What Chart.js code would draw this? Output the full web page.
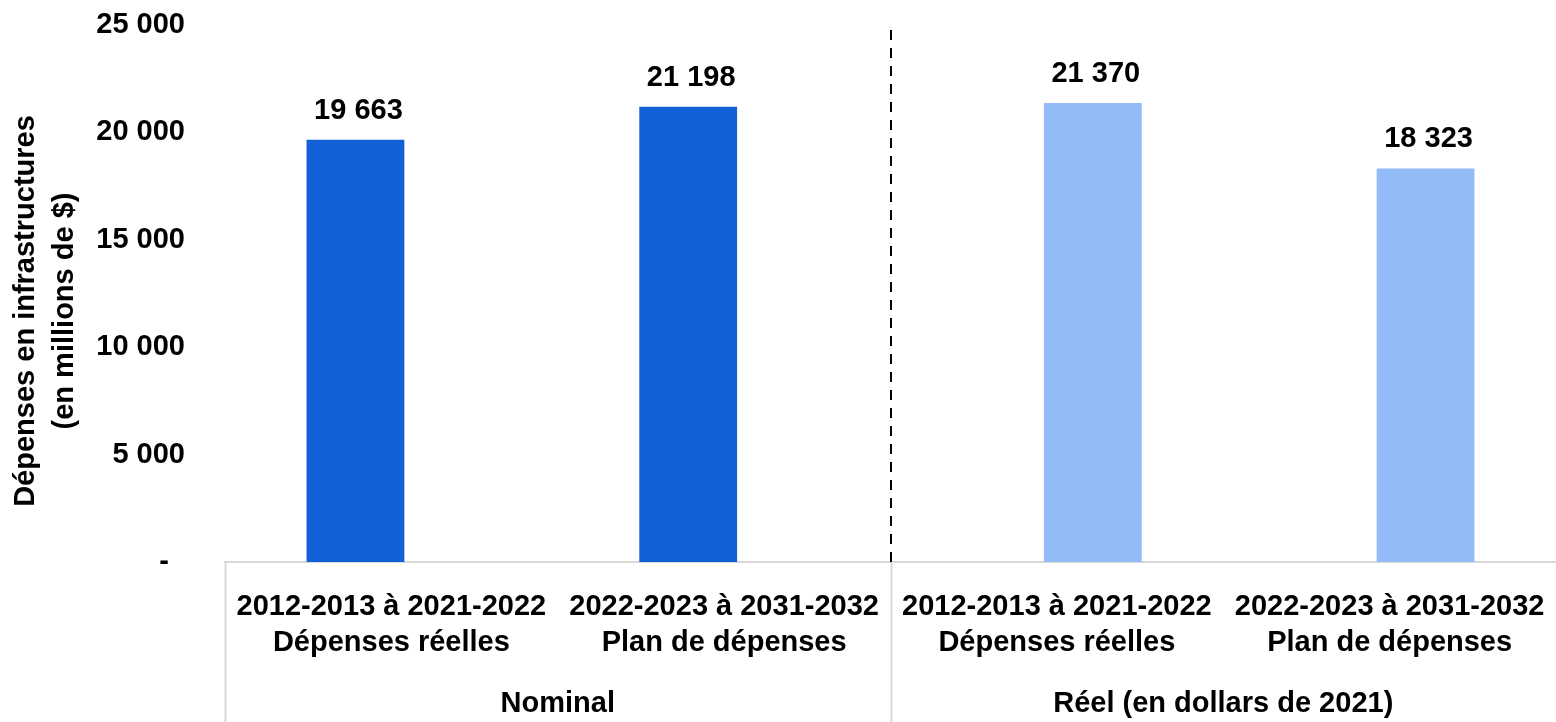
<!DOCTYPE html>
<html>
<head>
<meta charset="utf-8">
<script src="https://cdn.jsdelivr.net/npm/chart.js@4.4.0/dist/chart.umd.min.js"></script>
<style>
html,body{margin:0;padding:0;background:#fff;}
#wrap{width:1556px;height:722px;position:relative;}
</style>
</head>
<body>
<div id="wrap"><canvas id="c" width="1556" height="722"></canvas></div>
<script>
const categories = [
  ["2012-2013 à 2021-2022", "Dépenses réelles"],
  ["2022-2023 à 2031-2032", "Plan de dépenses"],
  ["2012-2013 à 2021-2022", "Dépenses réelles"],
  ["2022-2023 à 2031-2032", "Plan de dépenses"]
];
const groups = ["Nominal", "Réel (en dollars de 2021)"];
const nominalValues = [19663, 21198, null, null];
const realValues = [null, null, 21370, 18323];
const yTicks = [0, 5000, 10000, 15000, 20000, 25000];
const yTitle = ["Dépenses en infrastructures", "(en millions de $)"];

const FONT = "'Liberation Sans', Arial, sans-serif";
const FS = 29;

function fmt(v){
  if (v === 0) return "-  ";
  return String(Math.round(v)).replace(/\B(?=(\d{3})+(?!\d))/g, " ");
}

const overlay = {
  id: 'overlay',
  afterDraw(chart){
    const ctx = chart.ctx;
    const x = chart.scales.x;
    const area = chart.chartArea;
    const H = chart.height;
    const left = area.left;
    const mid = (x.getPixelForValue(1) + x.getPixelForValue(2)) / 2;
    const right = area.right;
    ctx.save();
    // group separators
    ctx.strokeStyle = '#d9d9d9';
    ctx.lineWidth = 2;
    [left, mid].forEach(px => {
      ctx.beginPath();
      ctx.moveTo(Math.round(px) + 0.5, area.bottom);
      ctx.lineTo(Math.round(px) + 0.5, H);
      ctx.stroke();
    });
    // dashed line
    ctx.strokeStyle = '#000';
    ctx.lineWidth = 2;
    ctx.setLineDash([10, 8]);
    ctx.beginPath();
    ctx.moveTo(Math.round(mid), area.top + 5);
    ctx.lineTo(Math.round(mid), area.bottom);
    ctx.stroke();
    ctx.setLineDash([]);
    ctx.fillStyle = '#000';
    ctx.font = "bold " + FS + "px " + FONT;
    ctx.textAlign = 'center';
    ctx.textBaseline = 'middle';
    // group labels
    ctx.fillText(groups[0], (left + mid) / 2, area.bottom + 142);
    ctx.fillText(groups[1], (mid + right) / 2, area.bottom + 142);
    // data labels
    chart.data.datasets.forEach((ds, di) => {
      const meta = chart.getDatasetMeta(di);
      meta.data.forEach((bar, i) => {
        const v = ds.data[i];
        if (v === null || v === undefined) return;
        ctx.fillText(fmt(v), bar.x + 3, bar.y - 29);
      });
    });
    // y axis title
    ctx.translate(0, 311);
    ctx.rotate(-Math.PI / 2);
    ctx.fillText(yTitle[0], 0, 26);
    ctx.fillText(yTitle[1], 0, 65);
    ctx.restore();
  }
};

new Chart(document.getElementById('c'), {
  type: 'bar',
  data: {
    labels: categories,
    datasets: [
      { label: groups[0], data: nominalValues, backgroundColor: '#1160d6' },
      { label: groups[1], data: realValues, backgroundColor: '#93bbf7' }
    ]
  },
  options: {
    responsive: false,
    animation: false,
    devicePixelRatio: 1,
    categoryPercentage: 0.432,
    barPercentage: 1.361,
    layout: { padding: { top: 25, right: 0, bottom: 0, left: 0 } },
    plugins: { legend: { display: false }, tooltip: { enabled: false } },
    scales: {
      x: {
        grid: { display: false, drawTicks: false },
        border: { display: true, color: '#d9d9d9', width: 2 },
        ticks: {
          color: '#000',
          font: { family: FONT, size: FS, weight: 'bold', lineHeight: 1.25 },
          padding: 27,
          maxRotation: 0,
          autoSkip: false
        },
        afterFit(scale){ scale.height = 160; scale.paddingLeft = 0; scale.paddingRight = 0; }
      },
      y: {
        min: 0, max: 25000,
        afterBuildTicks(scale){ scale.ticks = yTicks.map(v => ({ value: v })); },
        grid: { display: false, drawTicks: false },
        border: { display: false },
        ticks: {
          color: '#000',
          font: { family: FONT, size: FS, weight: 'bold' },
          padding: 40,
          callback: v => fmt(v)
        },
        afterFit(scale){ scale.width = 225; scale.paddingTop = 0; scale.paddingBottom = 0; }
      }
    }
  },
  plugins: [overlay]
});
</script>
</body>
</html>
